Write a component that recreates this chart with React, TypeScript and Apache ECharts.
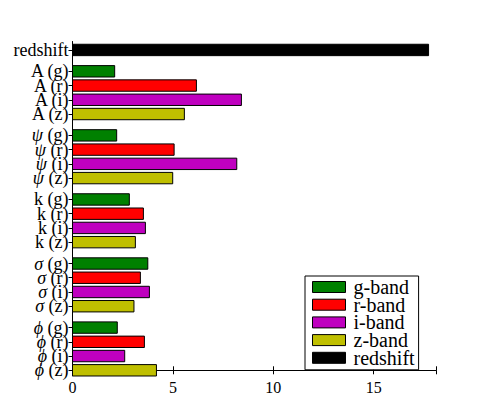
import React, { useEffect, useRef } from "react";
import * as echarts from "echarts";

const ROW_LABELS = [
  "redshift",
  "A (g)", "A (r)", "A (i)", "A (z)",
  "ψ (g)", "ψ (r)", "ψ (i)", "ψ (z)",
  "k (g)", "k (r)", "k (i)", "k (z)",
  "σ (g)", "σ (r)", "σ (i)", "σ (z)",
  "ϕ (g)", "ϕ (r)", "ϕ (i)", "ϕ (z)",
];
const ROW_POS = [
  22.5,
  21, 20, 19, 18,
  16.5, 15.5, 14.5, 13.5,
  12, 11, 10, 9,
  7.5, 6.5, 5.5, 4.5,
  3, 2, 1, 0,
];
// parameter order: A, psi, k, sigma, phi
const PARAM_POS_G = [21, 16.5, 12, 7.5, 3];
const G_BAND = [2.1, 2.2, 2.83, 3.75, 2.23];
const R_BAND = [6.17, 5.06, 3.53, 3.38, 3.58];
const I_BAND = [8.41, 8.18, 3.63, 3.83, 2.6];
const Z_BAND = [5.57, 4.99, 3.13, 3.06, 4.18];
const REDSHIFT = [17.73];
const REDSHIFT_POS = [22.5];
const X_TICKS = [0, 5, 10, 15];

const SERIF = "'Liberation Serif', 'Times New Roman', serif";

export default function App() {
  const ref = useRef<HTMLDivElement>(null);
  useEffect(() => {
    if (!ref.current) return;
    const chart = echarts.init(ref.current, null, { renderer: "svg" });
    const renderItem = (params: any, api: any) => {
      const x = api.value(0);
      const y = api.value(1);
      const p0 = api.coord([0, y + 0.4]);
      const p1 = api.coord([x, y - 0.4]);
      return {
        type: "rect",
        shape: { x: p0[0], y: p0[1], width: p1[0] - p0[0], height: p1[1] - p0[1] },
        style: { fill: api.visual("color"), stroke: "#000", lineWidth: 1 },
      };
    };
    const mk = (name: string, color: string, vals: number[], pos: number[]) => ({
      name,
      type: "custom",
      renderItem,
      clip: false,
      itemStyle: { color, borderColor: "#000", borderWidth: 1 },
      encode: { x: 0, y: 1 },
      data: vals.map((v, i) => [v, pos[i]]),
    });
    const offs = (d: number) => PARAM_POS_G.map((p) => p - d);
    const fmtY = (val: number) => {
      let idx = 0;
      let best = Infinity;
      ROW_POS.forEach((p, i) => {
        const d = Math.abs(p - val);
        if (d < best) { best = d; idx = i; }
      });
      const s = ROW_LABELS[idx];
      const first = s.charAt(0);
      if ("ψσϕ".includes(first)) return "{it|" + first + "}" + s.slice(1);
      return s;
    };
    const yMin = -0.38, yMax = 23.08, xMax = 18.1;
    const evenPos = ROW_POS.filter((_, i) => i % 2 === 0);
    const oddPos = ROW_POS.filter((_, i) => i % 2 === 1);
    const labelCfg = (vals: number[]) => ({
      show: true, color: "#000", fontFamily: SERIF, fontSize: 18, lineHeight: 14, margin: 4,
      showMinLabel: true, showMaxLabel: true,
      customValues: vals, formatter: fmtY,
      rich: { it: { fontStyle: "italic", fontFamily: SERIF, fontSize: 18, lineHeight: 14, color: "#000" } },
    });
    chart.setOption({
      animation: false,
      backgroundColor: "#fff",
      textStyle: { fontFamily: SERIF },
      grid: { left: 72.5, top: 41.7, right: 49, bottom: 42.3, containLabel: false, outerBoundsMode: "none" },
      legend: {
        orient: "vertical",
        left: 305,
        top: 276,
        padding: [1, 4, 2, 7],
        backgroundColor: "#fff",
        borderColor: "#000",
        borderWidth: 1,
        borderRadius: 0,
        itemWidth: 33,
        itemHeight: 11,
        itemGap: -2.3,
        icon: "rect",
        itemStyle: { borderColor: "#000", borderWidth: 1 },
        textStyle: { fontFamily: SERIF, fontSize: 20, color: "#000", padding: [0, 0, 0, 3] },
        data: ["g-band", "r-band", "i-band", "z-band", "redshift"],
      },
      xAxis: [
        {
          type: "value", min: 0, max: xMax, interval: 5, position: "bottom",
          axisLine: { show: true, lineStyle: { color: "#000", width: 1 } },
          axisTick: { show: true, inside: true, length: 4, lineStyle: { color: "#000" } },
          axisLabel: { show: true, color: "#000", fontFamily: SERIF, fontSize: 16, margin: 4, customValues: X_TICKS },
          splitLine: { show: false },
        },
        {
          type: "value", min: 0, max: xMax, interval: 5, position: "top",
          axisLine: { show: true, lineStyle: { color: "#000", width: 1 } },
          axisTick: { show: true, inside: true, length: 4, lineStyle: { color: "#000" } },
          axisLabel: { show: false },
          splitLine: { show: false },
        },
      ],
      yAxis: [
        {
          type: "value", min: yMin, max: yMax, position: "left", offset: 0,
          axisLine: { show: true, lineStyle: { color: "#000", width: 1 } },
          axisTick: { show: true, inside: true, length: 4, lineStyle: { color: "#000" }, customValues: ROW_POS },
          axisLabel: labelCfg(evenPos),
          splitLine: { show: false },
        },
        {
          type: "value", min: yMin, max: yMax, position: "right",
          axisLine: { show: true, lineStyle: { color: "#000", width: 1 } },
          axisTick: { show: true, inside: true, length: 4, lineStyle: { color: "#000" }, customValues: ROW_POS },
          axisLabel: { show: false },
          splitLine: { show: false },
        },
        {
          type: "value", min: yMin, max: yMax, position: "left", offset: 0,
          axisLine: { show: false },
          axisTick: { show: false },
          axisLabel: labelCfg(oddPos),
          splitLine: { show: false },
        },
      ],
      series: [
        mk("g-band", "#008000", G_BAND, offs(0)),
        mk("r-band", "#ff0000", R_BAND, offs(1)),
        mk("i-band", "#bf00bf", I_BAND, offs(2)),
        mk("z-band", "#bfbf00", Z_BAND, offs(3)),
        mk("redshift", "#000000", REDSHIFT, REDSHIFT_POS),
      ],
    });
    return () => chart.dispose();
  }, []);
  return (
    <div
      ref={ref}
      style={{ position: "fixed", left: 0, top: 0, width: 485, height: 418 }}
    />
  );
}
